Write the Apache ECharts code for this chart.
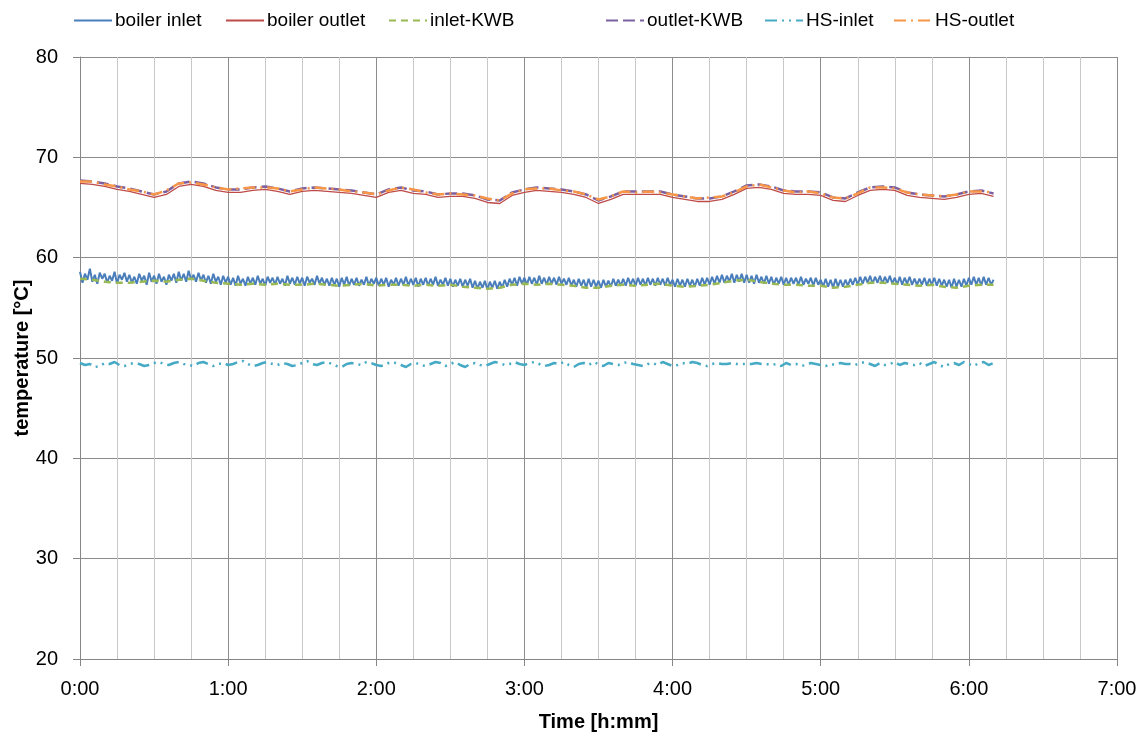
<!DOCTYPE html>
<html><head><meta charset="utf-8">
<script src="https://cdn.jsdelivr.net/npm/echarts@6/dist/echarts.min.js"></script>
<style>html,body{margin:0;padding:0;background:#fff}#c{width:1145px;height:738px}</style>
</head><body><div id="c"></div>
<script>
// sampling step (minutes) for each series, first sample at 0:00
const stepBoilerInlet = 1;
const stepHSInlet = 2;
const stepSmooth = 5;

const xTickLabels = ['0:00','1:00','2:00','3:00','4:00','5:00','6:00','7:00'];
const seriesNames = ['boiler inlet','boiler outlet','inlet-KWB','outlet-KWB','HS-inlet','HS-outlet'];

const boilerInlet = [
58.6,57.5,58.4,57.8,58.9,57.6,58.3,57.4,58.5,57.9,
58.4,57.5,58.2,57.7,58.6,57.4,58.3,57.8,58.5,57.6,
58.3,57.5,58.1,57.4,58.4,57.7,58.2,57.3,58.5,57.6,
58.2,57.4,58.4,57.6,58.1,57.3,58.3,57.7,58.4,57.5,
58.6,57.7,58.4,57.6,58.7,57.8,58.3,57.6,58.5,57.7,
58.3,57.5,58.2,57.4,58.4,57.6,58.1,57.3,58.2,57.5,
58.1,57.3,58.0,57.2,58.2,57.4,57.9,57.2,58.1,57.4,
58.0,57.3,58.2,57.4,57.9,57.2,58.1,57.5,58.0,57.3,
58.1,57.4,57.9,57.2,58.2,57.4,58.0,57.3,58.1,57.4,
58.0,57.2,58.1,57.5,57.9,57.3,58.2,57.4,58.0,57.3,
57.9,57.2,58.0,57.3,57.9,57.1,58.0,57.3,58.1,57.2,
57.9,57.3,58.0,57.2,57.8,57.3,58.1,57.2,57.9,57.4,
58.0,57.2,57.9,57.3,58.0,57.1,57.8,57.3,58.0,57.2,
57.9,57.3,58.1,57.2,57.9,57.3,58.0,57.1,57.9,57.3,
58.0,57.2,57.9,57.3,58.1,57.2,57.8,57.3,58.0,57.2,
57.9,57.1,57.8,57.2,57.9,57.1,57.8,57.2,57.9,57.0,
57.7,56.9,57.6,57.0,57.7,56.8,57.6,57.0,57.7,56.9,
57.6,57.0,57.8,57.1,57.9,57.3,58.0,57.2,58.1,57.4,
58.0,57.3,58.1,57.4,58.0,57.3,58.2,57.4,58.0,57.3,
58.1,57.4,58.0,57.3,58.1,57.4,57.9,57.3,58.0,57.2,
57.8,57.1,57.9,57.2,57.8,57.0,57.9,57.1,57.8,57.1,
57.7,57.0,57.8,57.1,57.7,57.1,57.9,57.2,57.8,57.2,
57.9,57.2,58.0,57.3,57.9,57.2,58.0,57.3,57.9,57.2,
58.0,57.3,57.9,57.2,58.0,57.3,57.9,57.2,58.0,57.3,
57.8,57.1,57.9,57.2,57.8,57.1,57.9,57.2,57.8,57.1,
57.9,57.2,58.0,57.3,58.0,57.3,58.1,57.4,58.2,57.5,
58.3,57.5,58.2,57.6,58.4,57.5,58.3,57.6,58.4,57.5,
58.3,57.5,58.2,57.4,58.3,57.5,58.1,57.4,58.2,57.4,
58.1,57.3,58.0,57.4,58.1,57.3,58.0,57.3,58.0,57.4,
58.0,57.3,58.1,57.3,57.9,57.4,58.0,57.2,58.0,57.3,
57.8,57.1,57.9,57.1,57.8,57.0,57.9,57.1,57.8,57.1,
57.8,57.2,57.9,57.3,58.0,57.3,58.1,57.4,58.1,57.5,
58.2,57.4,58.1,57.5,58.2,57.4,58.1,57.5,58.2,57.4,
58.0,57.3,58.1,57.3,58.0,57.4,58.1,57.3,57.9,57.3,
57.9,57.3,58.0,57.2,57.9,57.3,58.0,57.2,57.9,57.2,
57.8,57.1,57.8,57.0,57.9,57.1,57.8,57.1,57.9,57.2,
58.0,57.3,58.1,57.3,58.0,57.2,58.1,57.3,58.0,57.3,
57.8];

const boilerOutlet = [
67.4,67.3,67.1,66.8,66.6,66.3,66.0,66.3,67.1,67.3,
67.1,66.7,66.5,66.5,66.7,66.8,66.6,66.3,66.6,66.7,
66.6,66.5,66.4,66.2,66.0,66.5,66.7,66.4,66.3,66.0,
66.1,66.1,65.9,65.5,65.4,66.2,66.5,66.7,66.6,66.5,
66.3,66.0,65.4,65.8,66.3,66.3,66.3,66.3,66.0,65.8,
65.6,65.6,65.8,66.3,66.9,67.0,66.8,66.4,66.3,66.3,
66.2,65.7,65.6,66.2,66.7,66.8,66.7,66.2,66.0,65.9,
65.8,66.0,66.3,66.4,66.1];

const inletKWB = [
57.9,57.8,57.6,57.5,57.5,57.6,57.7,57.6,57.8,57.9,
57.7,57.5,57.4,57.3,57.4,57.3,57.4,57.3,57.3,57.4,
57.3,57.2,57.3,57.4,57.2,57.3,57.3,57.2,57.3,57.2,
57.3,57.1,57.0,56.9,57.0,57.3,57.4,57.3,57.4,57.3,
57.2,57.0,57.0,57.2,57.3,57.2,57.3,57.4,57.2,57.1,
57.2,57.3,57.5,57.7,57.8,57.6,57.4,57.3,57.3,57.2,
57.2,57.0,57.1,57.3,57.5,57.5,57.4,57.3,57.2,57.3,
57.1,57.0,57.2,57.3,57.3];

const outletKWB = [
67.7,67.6,67.4,67.1,66.9,66.6,66.3,66.6,67.4,67.6,
67.4,67.0,66.8,66.8,67.0,67.1,66.9,66.6,66.9,67.0,
66.9,66.8,66.7,66.5,66.3,66.8,67.0,66.7,66.6,66.3,
66.4,66.4,66.2,65.8,65.7,66.5,66.8,67.0,66.9,66.8,
66.6,66.3,65.7,66.1,66.6,66.6,66.6,66.6,66.3,66.1,
65.9,65.9,66.1,66.6,67.2,67.3,67.1,66.7,66.6,66.6,
66.5,66.0,65.9,66.5,67.0,67.1,67.0,66.5,66.3,66.2,
66.1,66.3,66.6,66.7,66.4];

const hsInlet = [
49.5,49.3,49.4,49.1,49.2,49.5,49.4,49.6,49.3,49.2,
49.4,49.5,49.4,49.2,49.3,49.5,49.6,49.4,49.3,49.5,
49.6,49.4,49.3,49.2,49.5,49.6,49.4,49.2,49.4,49.5,
49.3,49.4,49.6,49.7,49.4,49.2,49.3,49.5,49.6,49.4,
49.3,49.5,49.4,49.2,49.3,49.5,49.7,49.4,49.3,49.5,
49.6,49.4,49.2,49.1,49.4,49.5,49.4,49.3,49.6,49.5,
49.3,49.2,49.4,49.6,49.5,49.3,49.1,49.4,49.5,49.3,
49.2,49.4,49.6,49.5,49.2,49.4,49.6,49.3,49.1,49.4,
49.5,49.3,49.2,49.4,49.6,49.5,49.3,49.4,49.6,49.4,
49.3,49.5,49.6,49.4,49.2,49.3,49.5,49.4,49.6,49.3,
49.1,49.4,49.5,49.3,49.6,49.4,49.2,49.5,49.4,49.3,
49.5,49.6,49.4,49.3,49.2,49.4,49.5,49.3,49.6,49.4,
49.2,49.3,49.5,49.4,49.6,49.5,49.3,49.2,49.4,49.5,
49.4,49.4,49.5,49.4,49.4,49.4,49.4,49.5,49.4,49.4,
49.3,49.4,49.2,49.5,49.3,49.4,49.2,49.3,49.5,49.4,
49.3,49.2,49.4,49.3,49.5,49.4,49.4,49.3,49.5,49.6,
49.4,49.2,49.5,49.3,49.4,49.6,49.3,49.5,49.4,49.3,
49.5,49.2,49.4,49.6,49.3,49.1,49.4,49.5,49.3,49.6,
49.4,49.2,49.5,49.6,49.3,49.5];

const hsOutlet = [
67.6,67.6,67.3,67.1,66.8,66.6,66.3,66.7,67.4,67.5,
67.3,67.0,66.8,66.9,67.0,67.0,66.9,66.6,66.8,67.0,
66.9,66.8,66.6,66.5,66.3,66.7,67.0,66.8,66.5,66.3,
66.4,66.3,66.2,65.9,65.7,66.4,66.8,66.9,66.9,66.7,
66.6,66.3,65.8,66.1,66.6,66.5,66.6,66.5,66.3,66.1,
65.9,66.0,66.1,66.5,67.1,67.3,67.0,66.7,66.5,66.6,
66.4,66.0,65.9,66.4,67.0,67.0,66.9,66.5,66.3,66.2,
66.1,66.3,66.6,66.6,66.5];

const toPairs = (vals, step) => vals.map((v, i) => [i * step, v]);

const FONT = 'Liberation Sans';
const chart = echarts.init(document.getElementById('c'), null, {renderer: 'canvas'});

const seriesDefs = [
  {name: seriesNames[0], data: toPairs(boilerInlet, stepBoilerInlet), color: '#4a7ebb', width: 2, type: 'solid'},
  {name: seriesNames[1], data: toPairs(boilerOutlet, stepSmooth), color: '#be4b48', width: 1.3, type: 'solid'},
  {name: seriesNames[2], data: toPairs(inletKWB, stepSmooth), color: '#98b954', width: 2.5, type: [7, 5]},
  {name: seriesNames[3], data: toPairs(outletKWB, stepSmooth), color: '#7d60a0', width: 2.5, type: [12, 5]},
  {name: seriesNames[4], data: toPairs(hsInlet, stepHSInlet), color: '#46aac5', width: 2.5, type: [12, 5, 2, 5, 2, 5]},
  {name: seriesNames[5], data: toPairs(hsOutlet, stepSmooth), color: '#f79646', width: 2.5, type: [12, 5, 2, 5]}
];

const legendLefts = [68, 220, 383, 600, 759, 888];

const option = {
  animation: false,
  backgroundColor: '#fff',
  textStyle: {fontFamily: FONT},
  grid: {left: 80, right: 28, top: 57, bottom: 79, containLabel: false, outerBoundsMode: 'none'},
  legend: seriesDefs.map((s, i) => ({
    data: [s.name], left: legendLefts[i], top: 6,
    itemWidth: 38, itemHeight: 20, itemGap: 3,
    itemStyle: {opacity: 0},
    textStyle: {fontFamily: FONT, fontSize: 19, color: '#000', padding: [0,0,0,-2]}
  })),
  xAxis: {
    type: 'value', min: 0, max: 420, interval: 60,
    name: 'Time [h:mm]', nameLocation: 'middle', nameGap: 53, nameMoveOverlap: false,
    nameTextStyle: {fontFamily: FONT, fontSize: 20, fontWeight: 'bold', color: '#000'},
    axisLine: {show: true, lineStyle: {color: '#868686', width: 1}},
    axisTick: {show: true, length: 7, lineStyle: {color: '#868686'}},
    axisLabel: {fontFamily: FONT, fontSize: 20, color: '#000', margin: 20,
      formatter: v => xTickLabels[Math.round(v / 60)] || ''},
    splitLine: {show: true, lineStyle: {color: '#8c8c8c', width: 1}},
    minorTick: {show: false, splitNumber: 4},
    minorSplitLine: {show: true, lineStyle: {color: '#c8c8c8', width: 1}}
  },
  yAxis: {
    type: 'value', min: 20, max: 80, interval: 10,
    name: 'temperature [°C]', nameLocation: 'middle', nameGap: 48, nameRotate: 90, nameMoveOverlap: false,
    nameTextStyle: {fontFamily: FONT, fontSize: 20, fontWeight: 'bold', color: '#000'},
    axisLine: {show: true, lineStyle: {color: '#868686', width: 1}},
    axisTick: {show: true, length: 7, lineStyle: {color: '#868686'}},
    axisLabel: {fontFamily: FONT, fontSize: 20, color: '#000', margin: 22},
    splitLine: {show: true, lineStyle: {color: '#8c8c8c', width: 1}}
  },
  series: seriesDefs.map(s => ({
    name: s.name, type: 'line', data: s.data, symbol: 'none', showSymbol: false,
    smooth: false, color: s.color,
    lineStyle: {color: s.color, width: s.width, type: s.type},
    itemStyle: {color: s.color}
  }))
};
chart.setOption(option);
</script>
</body></html>
